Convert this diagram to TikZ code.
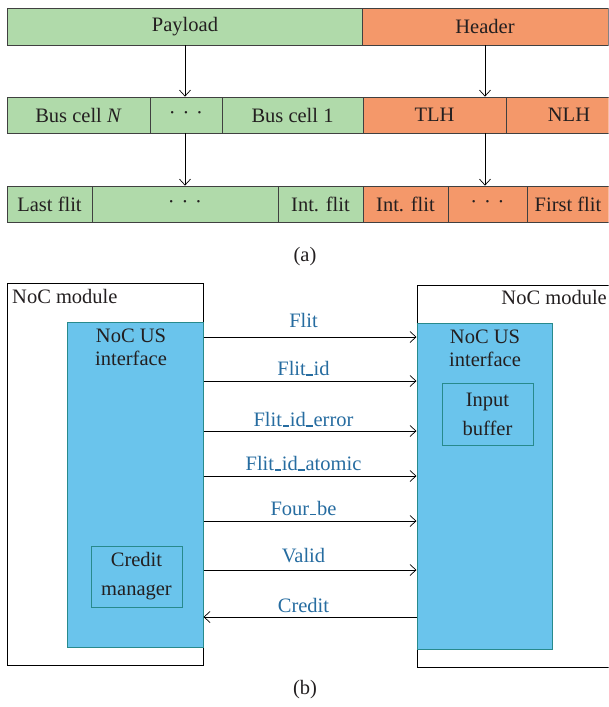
\documentclass[tikz,border=0pt]{standalone}
\usepackage{fontspec}
\setmainfont{Liberation Serif}
\usetikzlibrary{arrows.meta}
\definecolor{cellgreen}{RGB}{176,218,170}
\definecolor{cellorange}{RGB}{244,152,106}
\definecolor{ifblue}{RGB}{106,196,236}
\definecolor{ifedge}{RGB}{40,138,140}
\definecolor{sigblue}{RGB}{38,108,160}
\definecolor{txt}{RGB}{35,31,32}
\newcommand\figfont{\fontsize{20.5}{23}\selectfont}
\newcommand\dotsep{\textperiodcentered\hspace{0.33em}\textperiodcentered\hspace{0.33em}\textperiodcentered}
% short low dash used in the signal names
\newcommand\us{\kern0.03em\rule[-0.01em]{0.32em}{0.07em}\kern0.03em}
\tikzset{
  cell/.style={draw=black!75, line width=0.7pt, inner sep=0pt, minimum height=36pt,
    text=txt, font=\figfont},
  pl/.style={cell, fill=cellgreen},
  hd/.style={cell, fill=cellorange},
  down/.style={draw=black, line width=0.7pt, -{Straight Barb[length=6pt,width=11pt]}},
  module/.style={draw=black, line width=0.8pt, inner sep=0pt},
  iface/.style={draw=ifedge, fill=ifblue, line width=1pt, inner sep=0pt},
  subbox/.style={draw=ifedge, line width=1pt, inner sep=0pt, text=txt,
    font=\fontsize{20.5}{29}\selectfont, align=center},
  sig/.style={draw=black, line width=0.7pt, -{Straight Barb[length=6pt,width=11pt]}},
  siglabel/.style={midway, anchor=base, yshift=#1, xshift=-6.5pt, text=sigblue, font=\figfont},
  caption/.style={text=txt, font=\figfont},
}
\begin{document}
\begin{tikzpicture}[x=1pt,y=-1pt]
\useasboundingbox (0,0) rectangle (609,707);
\clip (0,0) rectangle (608.6,707);

% ---------- (a) packet structure ----------
\node[pl, minimum width=356, minimum height=37] (pay) at (185,26.5) {Payload};
\node[hd, minimum width=246, minimum height=37] (hdr) at (485,26.5) {Header};

\node[pl, minimum width=143] (bn)  at (78.5,115) {Bus cell \textit{N}};
\node[pl, minimum width=72]  (d1)  at (186,115)  {\dotsep};
\node[pl, minimum width=141] (b1)  at (292.5,115) {Bus cell 1};
\node[hd, minimum width=143] (tlh) at (434.5,115) {TLH};
\node[hd, minimum width=126] (nlh) at (569,115)  {NLH};

\node[pl, minimum width=85]  (lf)  at (49.5,204)  {Last flit};
\node[pl, minimum width=186] (d2)  at (185,204)   {\dotsep};
\node[pl, minimum width=85]  (if1) at (320.5,204) {Int. flit};
\node[hd, minimum width=85]  (if2) at (405.5,204) {Int. flit};
\node[hd, minimum width=79]  (d3)  at (487.5,204) {\dotsep};
\node[hd, minimum width=82]  (ff)  at (568,204)   {First flit};

\draw[down] (pay.south) -- (pay.south |- d1.north);
\draw[down] (hdr.south) -- (hdr.south |- tlh.north);
\draw[down] (pay.south |- d1.south) -- (pay.south |- d2.north);
\draw[down] (hdr.south |- tlh.south) -- (hdr.south |- d3.north);

\node[caption] (capa) at (305,257) {(a)};

% ---------- (b) interface signals ----------
\node[module, minimum width=196, minimum height=382] (lm) at (105,474) {};
\node[module, minimum width=195, minimum height=382] (rm) at (514.5,476) {};
\node[anchor=north west, inner sep=0pt, caption] (lml) at (12,289) {NoC module};
\node[anchor=north east, inner sep=0pt, caption] (rml) at (607,290) {NoC module};

\node[iface, minimum width=136, minimum height=325] (li) at (135,484.5) {};
\node[iface, minimum width=135, minimum height=326] (ri) at (484.5,486) {};
\node[anchor=north, align=center, inner sep=0pt, caption] (lit) at (131,329) {NoC US\\interface};
\node[anchor=north, align=center, inner sep=0pt, caption] (rit) at (485,330) {NoC US\\interface};

\node[subbox, minimum width=91, minimum height=61] (cm) at (136.5,576.5) {Credit\\manager};
\node[subbox, minimum width=91, minimum height=62] (ib) at (487.5,414) {Input\\buffer};

\draw[sig] (li.east |- 0,337) -- (ri.west |- 0,337) node[siglabel=10pt] {Flit};
\draw[sig] (li.east |- 0,381) -- (ri.west |- 0,381) node[siglabel=5.5pt] {Flit\us id};
\draw[sig] (li.east |- 0,431) -- (ri.west |- 0,431) node[siglabel=4.5pt] {Flit\us id\us error};
\draw[sig] (li.east |- 0,476) -- (ri.west |- 0,476) node[siglabel=5.5pt] {Flit\us id\us atomic};
\draw[sig] (li.east |- 0,521) -- (ri.west |- 0,521) node[siglabel=6pt] {Four\us be};
\draw[sig] (li.east |- 0,570) -- (ri.west |- 0,570) node[siglabel=7.5pt] {Valid};
\draw[sig] (ri.west |- 0,617) -- (li.east |- 0,617) node[siglabel=4.5pt] {Credit};

\node[caption] (capb) at (305,690) {(b)};
\end{tikzpicture}
\end{document}
